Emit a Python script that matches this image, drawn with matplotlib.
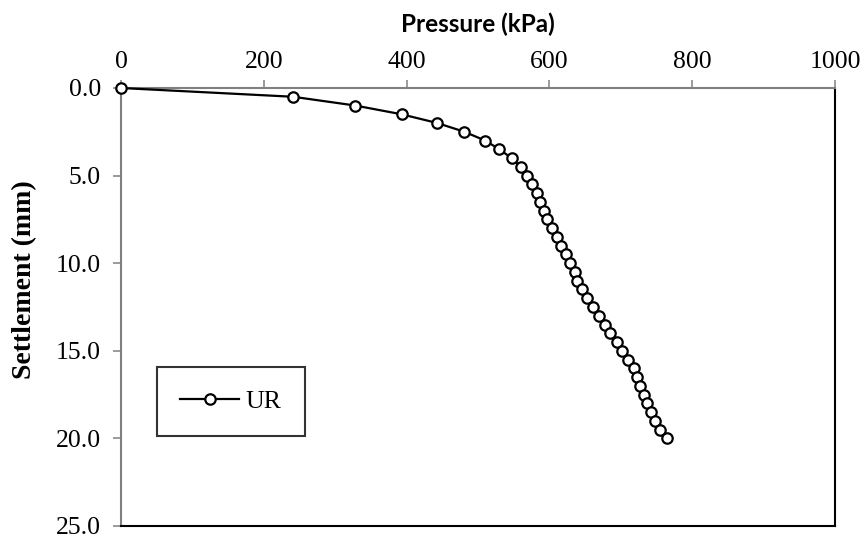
import matplotlib.pyplot as plt
import numpy as np

# settlement (mm) vs pressure (kPa)
settlement = [0.0, 0.5, 1.0, 1.5, 2.0, 2.5, 3.0, 3.5, 4.0, 4.5, 5.0, 5.5, 6.0, 6.5,
              7.0, 7.5, 8.0, 8.5, 9.0, 9.5, 10.0, 10.5, 11.0, 11.5, 12.0, 12.5,
              13.0, 13.5, 14.0, 14.5, 15.0, 15.5, 16.0, 16.5, 17.0, 17.5, 18.0,
              18.5, 19.0, 19.5, 20.0]
pressure = [0, 241, 328, 393, 443, 481, 510, 530, 547, 560, 568, 576, 583, 587,
            592, 597, 604, 610, 616, 623, 629, 636, 638, 646, 653, 661,
            670, 678, 685, 694, 702, 710, 718, 722, 727, 732, 737,
            742, 748, 755, 765]
xticks = [0, 200, 400, 600, 800, 1000]
yticks = [0, 5, 10, 15, 20, 25]

fig = plt.figure(figsize=(8.67, 5.44), dpi=100)
ax = fig.add_axes([121/867, 1-526/544, 714/867, 438/544])

ax.plot(pressure, settlement, color='black', lw=1.6, marker='o', ms=7.5,
        mfc='white', mec='black', mew=1.6, label='UR', clip_on=False, zorder=3)

ax.set_xlim(0, 1000)
ax.set_ylim(25, 0)
ax.xaxis.tick_top()
ax.xaxis.set_label_position('top')
ax.set_xticks(xticks)
ax.set_yticks(yticks)
ax.set_xticklabels([str(v) for v in xticks], fontfamily='Liberation Serif', fontsize=18.5)
ax.set_yticklabels(['%.1f' % v for v in yticks], fontfamily='Liberation Serif', fontsize=18.5)
ax.tick_params(axis='both', direction='out', length=5.5, width=1.1, color='#808080')
ax.tick_params(axis='x', pad=5)
ax.tick_params(axis='y', pad=9)

ax.set_xlabel('Pressure (kPa)', fontfamily='Lato', fontweight='bold', fontsize=17.5, labelpad=14)
ax.set_ylabel('Settlement (mm)', fontfamily='Liberation Serif', fontweight='bold', fontsize=20)
ax.yaxis.set_label_coords(-0.117, 0.562)

ax.spines['top'].set_color('#808080')
ax.spines['left'].set_color('#808080')
ax.spines['right'].set_color('black')
ax.spines['bottom'].set_color('black')
for s in ax.spines.values():
    s.set_linewidth(1.5)

leg = ax.legend(loc='center', bbox_to_anchor=(0.154, 0.284),
                prop={'family': 'Liberation Serif', 'size': 18.5}, frameon=True,
                fancybox=False, edgecolor='black', handlelength=2.3, handletextpad=0.25,
                borderpad=0.9, borderaxespad=0)
leg.get_frame().set_linewidth(1.5)

fig.savefig('out.png', dpi=100)
